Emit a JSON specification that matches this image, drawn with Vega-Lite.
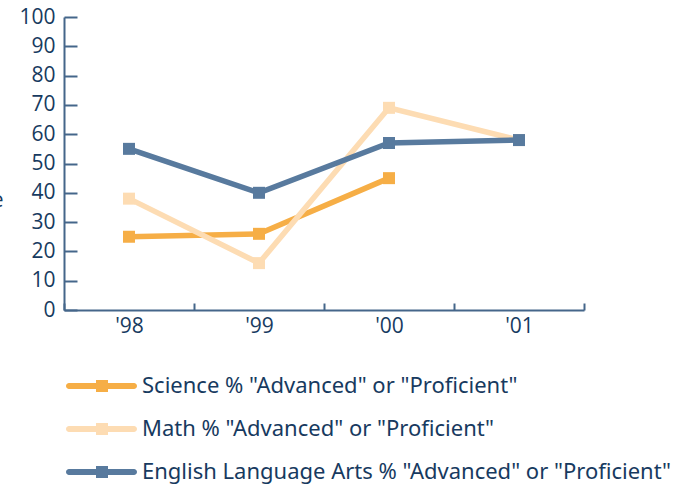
{
  "$schema": "https://vega.github.io/schema/vega-lite/v6.json",
  "autosize": {"type": "none"},
  "width": 520,
  "height": 293,
  "padding": {"left": 64, "top": 17, "right": 104, "bottom": 175},
  "background": "white",
  "config": {
    "view": {"stroke": null},
    "font": "Open Sans",
    "axis": {"grid": false, "domainColor": "#45668a", "tickColor": "#45668a", "domainWidth": 2, "tickWidth": 2,
             "labelColor": "#173a60", "labelFont": "Open Sans", "labelFontSize": 21}
  },
  "data": {
    "values": [
      {"year": "'98", "subject": "Science % \"Advanced\" or \"Proficient\"", "pct": 25},
      {"year": "'99", "subject": "Science % \"Advanced\" or \"Proficient\"", "pct": 26},
      {"year": "'00", "subject": "Science % \"Advanced\" or \"Proficient\"", "pct": 45},
      {"year": "'98", "subject": "Math % \"Advanced\" or \"Proficient\"", "pct": 38},
      {"year": "'99", "subject": "Math % \"Advanced\" or \"Proficient\"", "pct": 16},
      {"year": "'00", "subject": "Math % \"Advanced\" or \"Proficient\"", "pct": 69},
      {"year": "'01", "subject": "Math % \"Advanced\" or \"Proficient\"", "pct": 58},
      {"year": "'98", "subject": "English Language Arts % \"Advanced\" or \"Proficient\"", "pct": 55},
      {"year": "'99", "subject": "English Language Arts % \"Advanced\" or \"Proficient\"", "pct": 40},
      {"year": "'00", "subject": "English Language Arts % \"Advanced\" or \"Proficient\"", "pct": 57},
      {"year": "'01", "subject": "English Language Arts % \"Advanced\" or \"Proficient\"", "pct": 58}
    ]
  },
  "mark": {"type": "line", "strokeWidth": 5.5, "point": {"shape": "square", "size": 144, "filled": true, "opacity": 1}},
  "encoding": {
    "x": {
      "field": "year", "type": "ordinal", "sort": null,
      "scale": {"type": "band", "paddingInner": 0, "paddingOuter": 0},
      "axis": {"title": null, "labelAngle": 0, "tickBand": "extent", "tickSize": -7, "labelPadding": 12}
    },
    "y": {
      "field": "pct", "type": "quantitative",
      "scale": {"domain": [0, 100], "nice": false},
      "axis": {"values": [0, 10, 20, 30, 40, 50, 60, 70, 80, 90, 100], "tickSize": -13, "labelPadding": 22,
               "title": "Percentage", "titleAngle": 0, "titleAlign": "right", "titleBaseline": "middle",
               "titleX": -61, "titleY": 183, "titleColor": "#173a60", "titleFont": "Open Sans",
               "titleFontSize": 21, "titleFontWeight": "normal"}
    },
    "color": {
      "field": "subject", "type": "nominal",
      "scale": {
        "domain": ["Science % \"Advanced\" or \"Proficient\"", "Math % \"Advanced\" or \"Proficient\"", "English Language Arts % \"Advanced\" or \"Proficient\""],
        "range": ["#f6ae46", "#fddcb3", "#587a9e"]
      },
      "legend": {
        "title": null, "orient": "none", "legendX": 1, "legendY": 358,
        "symbolType": "M-0.7,-0.3H2.0V-0.6H3.2V-0.3H5.8A0.3,0.3 0 0 1 5.8,0.3H3.2V0.6H2.0V0.3H-0.7A0.3,0.3 0 0 1 -0.7,-0.3Z",
        "symbolSize": 400, "symbolStrokeWidth": 0, "labelOffset": 55, "rowPadding": 21,
        "labelFont": "Noto Sans", "labelFontSize": 22, "labelColor": "#173a60", "labelLimit": 700,
        "encode": {"symbols": {"update": {"fill": {"scale": "color", "field": "value"}, "stroke": {"value": "transparent"}, "opacity": {"value": 1}}}}
      }
    }
  }
}
